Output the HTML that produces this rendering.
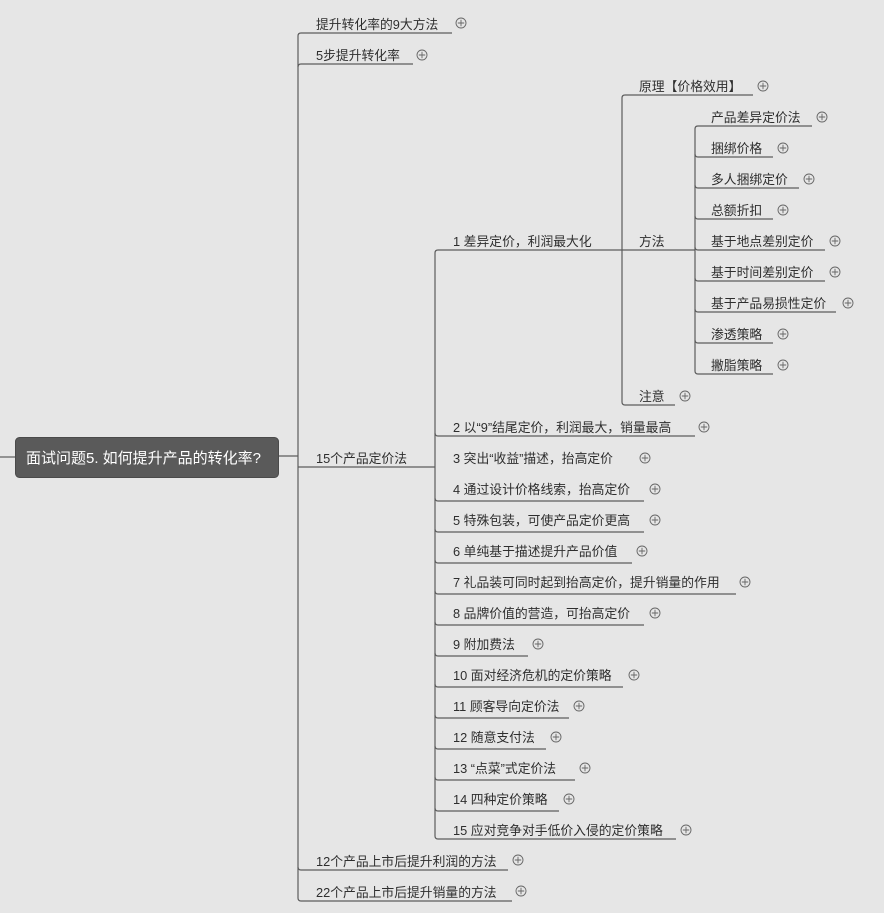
<!DOCTYPE html>
<html><head><meta charset="utf-8"><style>
html,body{margin:0;padding:0;background:#e6e6e6;}
svg{display:block;}
text{font-family:"Liberation Sans","Noto Sans CJK SC",sans-serif;font-size:12.8px;fill:#2e2e2e;}
.l{fill:none;stroke:#5c5c5c;stroke-width:1.2;}
.p{fill:none;stroke:#666;stroke-width:0.9;}
</style></head><body>
<svg width="884" height="913" viewBox="0 0 884 913" xmlns="http://www.w3.org/2000/svg">
<defs>
<g id="plus"><circle cx="0" cy="0" r="5" class="p"/><path d="M-3.2 0H3.2M0 -3.2V3.2" class="p"/></g>
</defs>
<line x1="0" y1="457" x2="16" y2="457" class="l"/>
<line x1="278" y1="456" x2="298" y2="456" class="l"/>
<rect x="15.5" y="437.5" width="263" height="40" rx="4" fill="#5a5a5a" stroke="#4a4a4a"/>
<text x="26" y="463" style="font-size:15px;fill:#fff">面试问题5. 如何提升产品的转化率?</text>

<g transform="translate(0,1)">
<text x="316" y="28">提升转化率的9大方法</text>
<text x="316" y="59">5步提升转化率</text>
<text x="316" y="462">15个产品定价法</text>
<text x="316" y="865">12个产品上市后提升利润的方法</text>
<text x="316" y="896">22个产品上市后提升销量的方法</text>
<text x="453" y="245">1 差异定价，利润最大化</text>
<text x="453" y="431">2 以“9”结尾定价，利润最大，销量最高</text>
<text x="453" y="462">3 突出“收益”描述，抬高定价</text>
<text x="453" y="493">4 通过设计价格线索，抬高定价</text>
<text x="453" y="524">5 特殊包装，可使产品定价更高</text>
<text x="453" y="555">6 单纯基于描述提升产品价值</text>
<text x="453" y="586">7 礼品装可同时起到抬高定价，提升销量的作用</text>
<text x="453" y="617">8 品牌价值的营造，可抬高定价</text>
<text x="453" y="648">9 附加费法</text>
<text x="453" y="679">10 面对经济危机的定价策略</text>
<text x="453" y="710">11 顾客导向定价法</text>
<text x="453" y="741">12 随意支付法</text>
<text x="453" y="772">13 “点菜”式定价法</text>
<text x="453" y="803">14 四种定价策略</text>
<text x="453" y="834">15 应对竞争对手低价入侵的定价策略</text>
<text x="639" y="90">原理【价格效用】</text>
<text x="639" y="245">方法</text>
<text x="639" y="400">注意</text>
<text x="711" y="121">产品差异定价法</text>
<text x="711" y="152">捆绑价格</text>
<text x="711" y="183">多人捆绑定价</text>
<text x="711" y="214">总额折扣</text>
<text x="711" y="245">基于地点差别定价</text>
<text x="711" y="276">基于时间差别定价</text>
<text x="711" y="307">基于产品易损性定价</text>
<text x="711" y="338">渗透策略</text>
<text x="711" y="369">撇脂策略</text>
</g>

<path class="l" d="M298 456V36Q298 33 301 33H452"/>
<path class="l" d="M298 67Q298 64 301 64H413"/>
<path class="l" d="M298 456V898Q298 901 301 901H512"/>
<path class="l" d="M298 867Q298 870 301 870H508"/>
<path class="l" d="M298 467H435"/>
<use href="#plus" x="461" y="23"/>
<use href="#plus" x="422" y="55"/>
<use href="#plus" x="518" y="860"/>
<use href="#plus" x="521" y="891"/>

<path class="l" d="M435 467V253Q435 250 438 250H622"/>
<path class="l" d="M435 467V836Q435 839 438 839H676"/>
<g class="l">
<path d="M435 433Q435 436 438 436H695"/>
<path d="M435 498Q435 501 438 501H644"/>
<path d="M435 529Q435 532 438 532H644"/>
<path d="M435 560Q435 563 438 563H632"/>
<path d="M435 591Q435 594 438 594H736"/>
<path d="M435 622Q435 625 438 625H644"/>
<path d="M435 653Q435 656 438 656H528"/>
<path d="M435 684Q435 687 438 687H623"/>
<path d="M435 715Q435 718 438 718H569"/>
<path d="M435 746Q435 749 438 749H546"/>
<path d="M435 777Q435 780 438 780H575"/>
<path d="M435 808Q435 811 438 811H559"/>
</g>
<use href="#plus" x="704" y="427"/>
<use href="#plus" x="645" y="458"/>
<use href="#plus" x="655" y="489"/>
<use href="#plus" x="655" y="520"/>
<use href="#plus" x="642" y="551"/>
<use href="#plus" x="745" y="582"/>
<use href="#plus" x="655" y="613"/>
<use href="#plus" x="538" y="644"/>
<use href="#plus" x="634" y="675"/>
<use href="#plus" x="579" y="706"/>
<use href="#plus" x="556" y="737"/>
<use href="#plus" x="585" y="768"/>
<use href="#plus" x="569" y="799"/>
<use href="#plus" x="686" y="830"/>

<path class="l" d="M622 250V98Q622 95 625 95H753"/>
<path class="l" d="M622 250V402Q622 405 625 405H675"/>
<path class="l" d="M622 250H695"/>
<use href="#plus" x="763" y="86"/>
<use href="#plus" x="685" y="396"/>

<path class="l" d="M695 250V129Q695 126 698 126H812"/>
<path class="l" d="M695 250V371Q695 374 698 374H773"/>
<g class="l">
<path d="M695 154Q695 157 698 157H773"/>
<path d="M695 185Q695 188 698 188H799"/>
<path d="M695 216Q695 219 698 219H773"/>
<path d="M695 247Q695 250 698 250H825"/>
<path d="M695 278Q695 281 698 281H825"/>
<path d="M695 309Q695 312 698 312H836"/>
<path d="M695 340Q695 343 698 343H773"/>
</g>
<use href="#plus" x="822" y="117"/>
<use href="#plus" x="783" y="148"/>
<use href="#plus" x="809" y="179"/>
<use href="#plus" x="783" y="210"/>
<use href="#plus" x="835" y="241"/>
<use href="#plus" x="835" y="272"/>
<use href="#plus" x="848" y="303"/>
<use href="#plus" x="783" y="334"/>
<use href="#plus" x="783" y="365"/>
</svg>
</body></html>
